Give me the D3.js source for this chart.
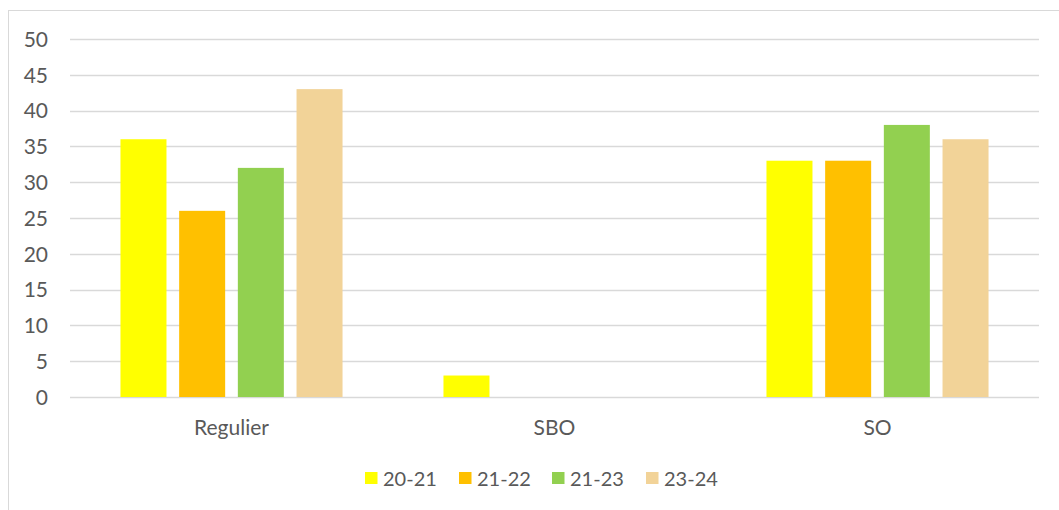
<!DOCTYPE html>
<html><head><meta charset="utf-8">
<script src="https://cdn.jsdelivr.net/npm/d3@7"></script>
<style>body{margin:0;background:#fff}svg{display:block}text{font-family:Lato,"Open Sans",sans-serif;fill:#595959}</style>
</head><body><svg id="c" width="1059" height="510"></svg>
<script>
const categories = ["Regulier", "SBO", "SO"];
const seriesNames = ["20-21", "21-22", "21-23", "23-24"];
const s2021 = [36, 3, 33];
const s2122 = [26, 0, 33];
const s2123 = [32, 0, 38];
const s2324 = [43, 0, 36];
const yTicks = [0, 5, 10, 15, 20, 25, 30, 35, 40, 45, 50];
const colors = ["#FFFF00", "#FFC000", "#92D050", "#F2D398"];

const seriesVals = [s2021, s2122, s2123, s2324];
const svg = d3.select("#c");
svg.append("rect").attr("x", 8.5).attr("y", 10.5).attr("width", 1060).attr("height", 520)
  .attr("fill", "none").attr("stroke", "#D9D9D9").attr("stroke-width", 1);

const y = d3.scaleLinear().domain([0, 50]).range([397, 39]);
const x0 = d3.scaleBand().domain(categories).range([70, 1039]).padding(0);
const x1 = d3.scaleBand().domain(seriesNames).range([0, x0.bandwidth()]).paddingInner(0.216).paddingOuter(0.86);

const grid = svg.append("g");
grid.selectAll("line").data(yTicks).join("line")
  .attr("x1", 70).attr("x2", 1039)
  .attr("y1", d => Math.round(y(d)) + 0.5).attr("y2", d => Math.round(y(d)) + 0.5)
  .attr("stroke", "#D9D9D9").attr("stroke-width", 1.3);

const yAxis = d3.axisLeft(y).tickValues(yTicks).tickSize(0).tickPadding(0);
const ga = svg.append("g").attr("transform", "translate(48,0)").call(yAxis);
ga.select(".domain").remove();
ga.selectAll("text").attr("font-size", 21).attr("font-family", "Lato").attr("fill", "#595959").attr("dy", "0.35em");

const groups = svg.append("g").selectAll("g").data(categories).join("g")
  .attr("transform", d => `translate(${x0(d)},0)`);
groups.selectAll("rect").data((c, i) => seriesNames.map((s, j) => ({s, v: seriesVals[j][i], j})))
  .join("rect")
  .attr("x", d => x1(d.s)).attr("width", x1.bandwidth())
  .attr("y", d => y(d.v)).attr("height", d => y(0) - y(d.v))
  .attr("fill", d => colors[d.j]);

const xAxis = d3.axisBottom(x0).tickSize(0).tickPadding(0);
const gx = svg.append("g").attr("transform", "translate(0,420)").call(xAxis);
gx.select(".domain").remove();
gx.selectAll("text").attr("font-size", 21).attr("font-family", "Lato").attr("fill", "#595959");

const legendX = [365, 459, 552, 646];
const lg = svg.append("g").selectAll("g").data(seriesNames).join("g")
  .attr("transform", (d, i) => `translate(${legendX[i]},472)`);
lg.append("rect").attr("width", 12.5).attr("height", 12).attr("fill", (d, i) => colors[i]);
lg.append("text").attr("x", 18).attr("y", 13.5).attr("font-size", 20).text(d => d);
</script></body></html>
